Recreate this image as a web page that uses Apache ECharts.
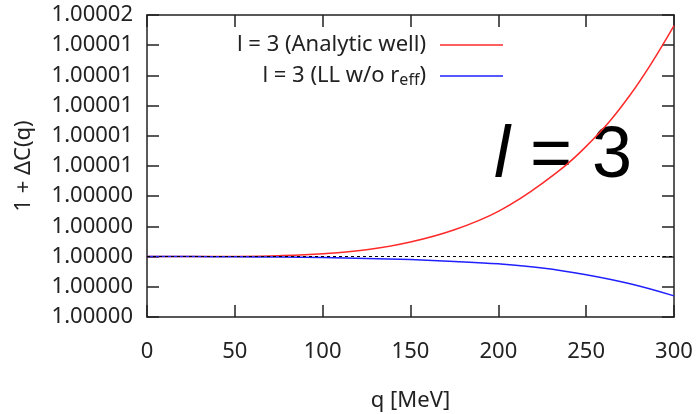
<!DOCTYPE html>
<html>
<head>
<meta charset="utf-8">
<script src="https://cdn.jsdelivr.net/npm/echarts@6/dist/echarts.min.js"></script>
<style>
  html, body { margin: 0; padding: 0; background: #fff; }
  #main { width: 698px; height: 414px; }
</style>
</head>
<body>
<div id="main"></div>
<script>
// q in MeV, deviations of 1 + dC(q) from 1 in units of 1e-6
var qValues = [0, 25, 50, 75, 100, 125, 150, 175, 200, 225, 250, 275, 300]
var analyticWell = [0, 0, 0.01, 0.06, 0.19, 0.46, 0.97, 1.78, 3.0, 4.85, 7.3, 10.7, 15.3]
var llNoReff = [0, 0, -0.01, -0.03, -0.06, -0.12, -0.2, -0.32, -0.48, -0.75, -1.2, -1.8, -2.6]
var xTicks = [0, 50, 100, 150, 200, 250, 300]
var yMin = -4, yMax = 16, yStep = 2

var font = 'Noto Sans'
var fs = 22
var ink = '#222'

var pairs = function (ys) {
    return qValues.map(function (q, i) { return [q, ys[i]] })
}

var myChart = echarts.init(document.getElementById('main'))

var xBase = {
    type: 'value', min: xTicks[0], max: xTicks[xTicks.length - 1], interval: 50,
    axisLine: { onZero: false, lineStyle: { color: ink, width: 1.5 } },
    axisTick: { inside: true, length: 12, lineStyle: { color: ink, width: 1.5 } },
    splitLine: { show: false }
}
var yBase = {
    type: 'value', min: yMin, max: yMax, interval: yStep,
    axisLine: { onZero: false, lineStyle: { color: ink, width: 1.5 } },
    axisTick: { inside: true, length: 12, lineStyle: { color: ink, width: 1.5 } },
    splitLine: { show: false }
}

var option = {
    animation: false,
    backgroundColor: '#fff',
    grid: { left: 147, right: 24, top: 15, bottom: 97, containLabel: false, outerBoundsMode: 'none' },
    legend: {
        orient: 'vertical', right: 190, top: 29, itemGap: 9, align: 'right',
        itemWidth: 63, itemHeight: 20,
        icon: 'path://M0,9.3 L63,9.3 L63,10.7 L0,10.7 Z',
        textStyle: {
            fontFamily: font, fontSize: fs, color: ink, padding: [0, 9, 0, 0],
            rich: {
                n: { fontFamily: font, fontSize: fs, color: ink },
                sub: { fontFamily: font, fontSize: 16, color: ink, verticalAlign: 'bottom', padding: [9, 0, 0, 0] }
            }
        },
        formatter: function (name) {
            if (name === 'llw') return '{n|l = 3 (LL w/o r}{sub|eff}{n|)}'
            return '{n|' + name + '}'
        },
        data: ['l = 3 (Analytic well)', 'llw']
    },
    xAxis: [
        Object.assign({}, xBase, {
            position: 'bottom',
            name: 'q [MeV]', nameLocation: 'middle', nameGap: 73,
            nameTextStyle: { fontFamily: font, fontSize: fs, color: ink },
            axisLabel: { margin: 24, fontFamily: font, fontSize: fs, color: ink }
        }),
        Object.assign({}, xBase, { position: 'top', axisLabel: { show: false } })
    ],
    yAxis: [
        Object.assign({}, yBase, {
            position: 'left',
            name: '1 + ΔC(q)', nameLocation: 'middle', nameGap: 112, nameRotate: 90,
            nameTextStyle: { fontFamily: font, fontSize: fs, color: ink },
            axisLabel: {
                margin: 14, fontFamily: font, fontSize: fs, color: ink,
                formatter: function (v) { return (1 + v * 1e-6).toFixed(5) }
            }
        }),
        Object.assign({}, yBase, { position: 'right', axisLabel: { show: false } })
    ],
    graphic: [{
        type: 'text', left: 494, top: 121, silent: true,
        style: {
            text: '{it|l} = 3',
            fontFamily: 'Liberation Sans', fontSize: 72, fill: '#000',
            rich: { it: { fontFamily: 'Liberation Sans', fontStyle: 'italic', fontSize: 72, fill: '#000' } }
        }
    }],
    series: [
        {
            name: 'l = 3 (Analytic well)', type: 'line', smooth: 0.4, showSymbol: false,
            data: pairs(analyticWell), color: '#ff2a2a',
            lineStyle: { width: 1.5, color: '#ff2a2a' },
            markLine: {
                silent: true, symbol: 'none', label: { show: false },
                lineStyle: { type: [3, 3], color: '#000', width: 1 },
                data: [{ yAxis: 0 }]
            }
        },
        {
            name: 'llw', type: 'line', smooth: 0.4, showSymbol: false,
            data: pairs(llNoReff), color: '#2020ff',
            lineStyle: { width: 1.5, color: '#2020ff' }
        }
    ]
}
myChart.setOption(option)
</script>
</body>
</html>
